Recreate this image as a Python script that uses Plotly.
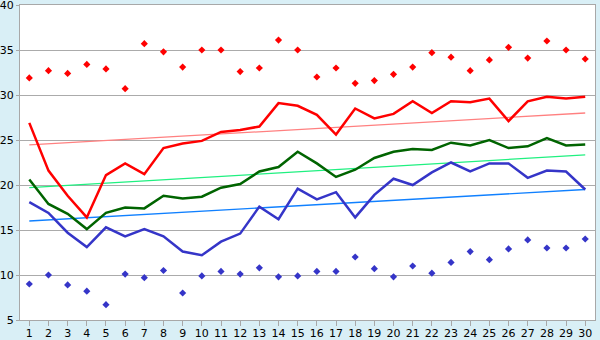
import plotly.graph_objects as go

days = list(range(1, 31))

red_line = [26.9, 21.6, 18.8, 16.4, 21.1, 22.4, 21.2, 24.1, 24.6, 24.9,
            25.9, 26.1, 26.5, 29.1, 28.8, 27.8, 25.6, 28.5, 27.4, 27.9,
            29.3, 28.0, 29.3, 29.2, 29.6, 27.1, 29.3, 29.8, 29.6, 29.8]
green_line = [20.6, 17.9, 16.8, 15.1, 16.9, 17.5, 17.4, 18.8, 18.5, 18.7,
              19.7, 20.1, 21.5, 22.0, 23.7, 22.4, 20.9, 21.7, 23.0, 23.7,
              24.0, 23.9, 24.7, 24.4, 25.0, 24.1, 24.3, 25.2, 24.4, 24.5]
blue_line = [18.1, 16.9, 14.7, 13.1, 15.3, 14.3, 15.1, 14.3, 12.6, 12.2,
             13.7, 14.6, 17.6, 16.2, 19.6, 18.4, 19.2, 16.4, 18.9, 20.7,
             20.0, 21.4, 22.5, 21.5, 22.4, 22.4, 20.8, 21.6, 21.5, 19.5]
red_marks = [31.9, 32.7, 32.4, 33.4, 32.9, 30.7, 35.7, 34.8, 33.1, 35.0,
             35.0, 32.6, 33.0, 36.1, 35.0, 32.0, 33.0, 31.3, 31.6, 32.3,
             33.1, 34.7, 34.2, 32.7, 33.9, 35.3, 34.1, 36.0, 35.0, 34.0]
blue_marks = [9.0, 10.0, 8.9, 8.2, 6.7, 10.1, 9.7, 10.5, 8.0, 9.9,
              10.4, 10.1, 10.8, 9.8, 9.9, 10.4, 10.4, 12.0, 10.7, 9.8,
              11.0, 10.2, 11.4, 12.6, 11.7, 12.9, 13.9, 13.0, 13.0, 14.0]
trend_x = [1, 30]
red_trend = [24.45, 28.0]
green_trend = [19.7, 23.35]
blue_trend = [16.0, 19.5]

fig = go.Figure()
for ys, col in [(red_trend, "#ff8080"), (green_trend, "#20f080"), (blue_trend, "#1080ff")]:
    fig.add_trace(go.Scatter(x=trend_x, y=ys, mode="lines",
                             line=dict(color=col, width=1.3), hoverinfo="skip"))
for ys, col in [(blue_line, "#3535c8"), (green_line, "#006400"), (red_line, "#ff0000")]:
    fig.add_trace(go.Scatter(x=days, y=ys, mode="lines",
                             line=dict(color=col, width=2.5)))
for ys, col in [(red_marks, "#ff0000"), (blue_marks, "#3535c8")]:
    fig.add_trace(go.Scatter(x=days, y=ys, mode="markers",
                             marker=dict(color=col, size=5.5, symbol="diamond")))

fig.update_layout(
    width=600, height=340,
    margin=dict(l=20, r=5, t=5, b=20, autoexpand=False),
    paper_bgcolor="#d9eff6",
    plot_bgcolor="#ffffff",
    showlegend=False,
    font=dict(family="DejaVu Sans", size=11, color="#000000"),
    xaxis=dict(range=[0.515, 30.51], tickmode="array", tickvals=days,
               ticktext=[str(d) for d in days], showgrid=False,
               showline=True, linecolor="#a8a8a8", linewidth=1, mirror=True,
               ticks="outside", ticklen=5, tickcolor="#a8a8a8", zeroline=False,
               ticklabeloverflow="allow", automargin=False,
               ticklabelstandoff=-2),
    yaxis=dict(range=[5, 40], tickvals=[5, 10, 15, 20, 25, 30, 35, 40],
               showgrid=True, gridcolor="#ababab", gridwidth=1,
               showline=True, linecolor="#a8a8a8", linewidth=1, mirror=True,
               ticks="outside", ticklen=3, tickcolor="#a8a8a8", zeroline=False,
               ticklabeloverflow="allow", automargin=False),
)
fig.write_html("out.html")
